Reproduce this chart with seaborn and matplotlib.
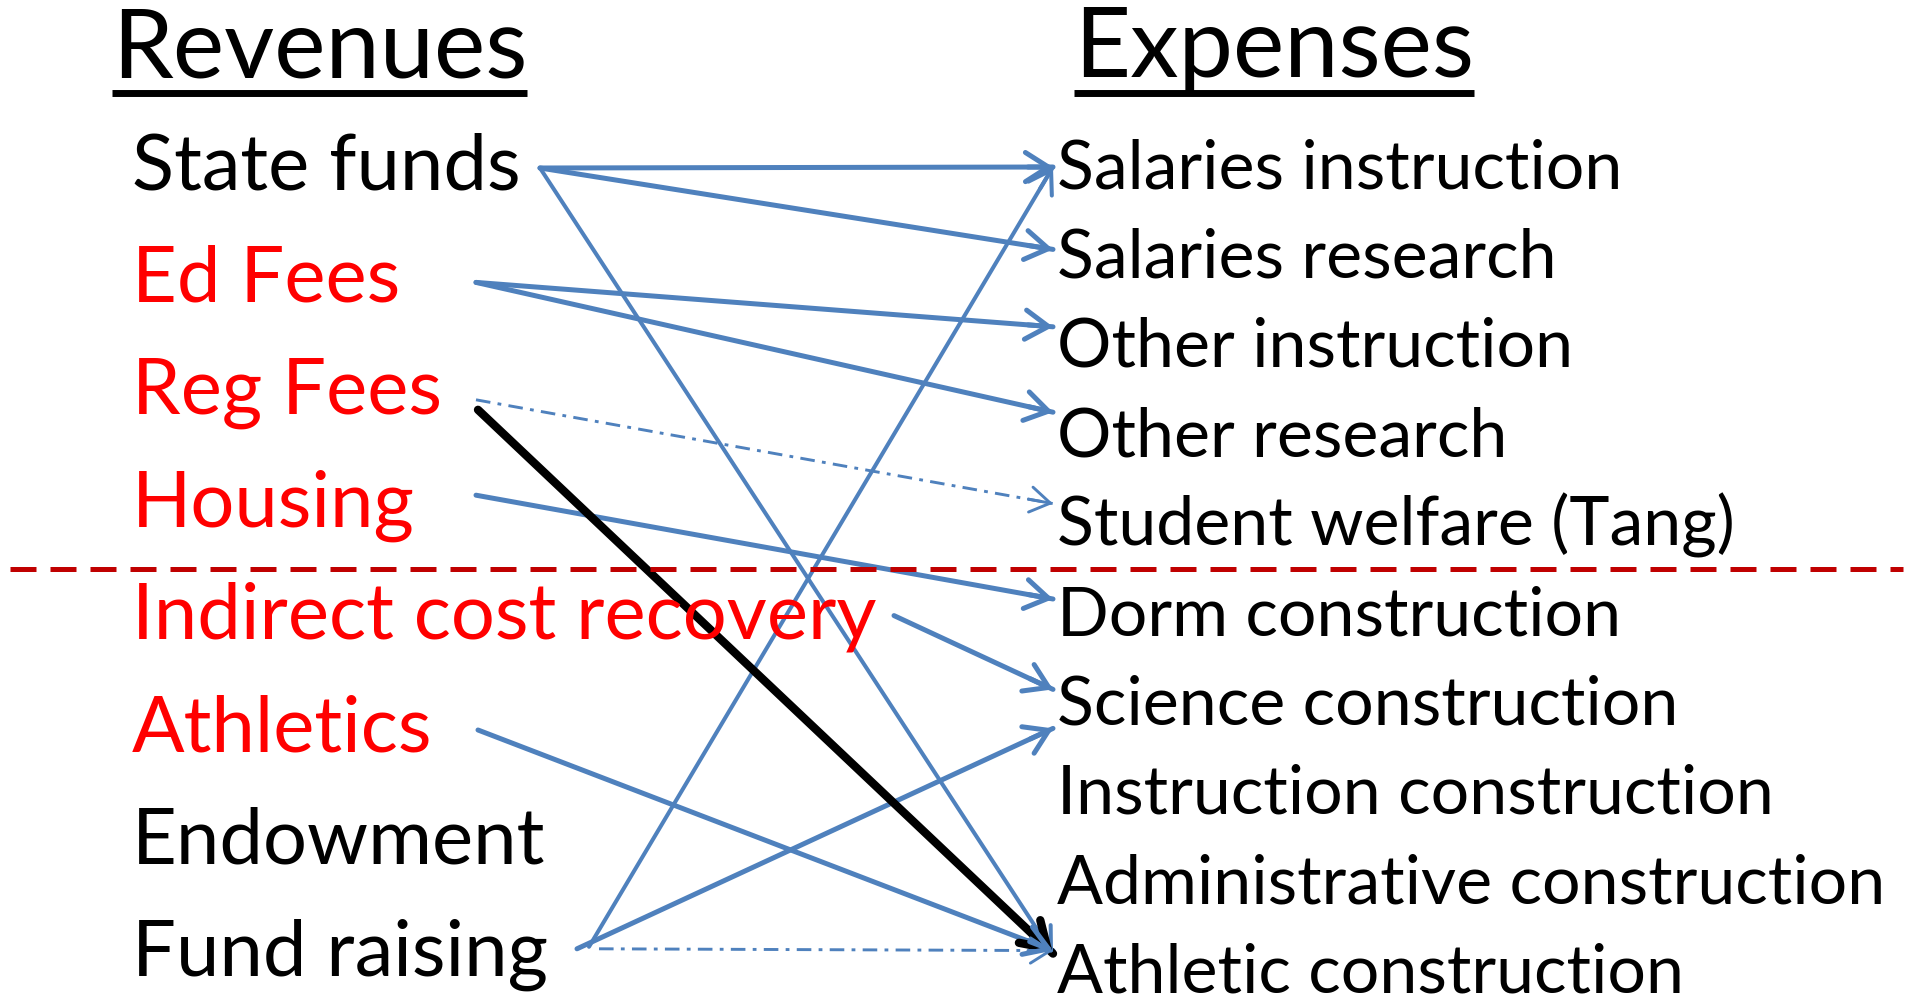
import numpy as np
import pandas as pd
import matplotlib
matplotlib.use("Agg")
import matplotlib.pyplot as plt
import seaborn as sns

# Categories
revenues = ["State funds", "Ed Fees", "Reg Fees", "Housing",
            "Indirect cost recovery", "Athletics", "Endowment", "Fund raising"]
rev_red = [False, True, True, True, True, True, False, False]
expenses = ["Salaries instruction", "Salaries research", "Other instruction",
            "Other research", "Student welfare (Tang)", "Dorm construction",
            "Science construction", "Instruction construction",
            "Administrative construction", "Athletic construction"]

# Flows revenue -> expense
link_src = ["State funds", "State funds", "State funds", "Ed Fees", "Ed Fees",
            "Reg Fees", "Reg Fees", "Housing", "Indirect cost recovery",
            "Athletics", "Fund raising", "Fund raising", "Fund raising"]
link_dst = ["Salaries instruction", "Salaries research", "Athletic construction",
            "Other instruction", "Other research", "Student welfare (Tang)",
            "Athletic construction", "Dorm construction", "Science construction",
            "Athletic construction", "Salaries instruction", "Science construction",
            "Athletic construction"]
link_kind = ["solid", "solid", "thin", "solid", "solid", "dashdot", "bold",
             "solid", "solid", "solid", "thin", "solid", "dashdot"]

# ---- layout (pixels, figure is 1913x996 at dpi 100) ----
W, H = 1913, 996
LEFT_X, RIGHT_X = 132, 1057
LEFT_TOP, LEFT_STEP = 189, 112.4
RIGHT_TOP, RIGHT_STEP = 188, 89.4
SRC_X = [540, 476, 476, 476, 894, 478, None, 589]
TIP_X = 1053
# per-link nudges (dx start, dy start, dy end) relative to text baselines
LINK_NUDGE = [(0, -21, -21), (0, -21, -28), (0, -21, -39), (0, -19, -40),
              (0, -19, -44), (0, -14, -42), (2, -4, -39), (0, -31, -36),
              (0, -23, -35), (0, -21, -42), (0, -29, -21), (-12, -27, 4),
              (10, -27, -42)]

BLUE = "#4F81BD"
KIND_COLOR = {"solid": BLUE, "thin": BLUE, "dashdot": BLUE, "bold": "black"}
KIND_LW = {"solid": 3.6, "thin": 2.9, "dashdot": 2.1, "bold": 6.0}
KIND_DASH = {"solid": "", "thin": "", "dashdot": (5, 2.5, 1.3, 2.5), "bold": ""}
KIND_HEAD = {"solid": 30, "thin": 28, "dashdot": 26, "bold": 32}

sns.set_theme(style="white")
plt.rcParams['font.family'] = ['Lato', 'DejaVu Sans']

fig = plt.figure(figsize=(W / 100, H / 100), dpi=100)
ax = fig.add_axes([0, 0, 1, 1])


def rev_y(i):
    return LEFT_TOP + i * LEFT_STEP


def exp_y(j):
    return RIGHT_TOP + j * RIGHT_STEP


# build segment table
rows = []
for k, (s, d, kind) in enumerate(zip(link_src, link_dst, link_kind)):
    i, j = revenues.index(s), expenses.index(d)
    dx, dy0, dy1 = LINK_NUDGE[k]
    rows.append(dict(link=k, kind=kind, x=SRC_X[i] + dx, y=rev_y(i) + dy0))
    rows.append(dict(link=k, kind=kind, x=TIP_X, y=exp_y(j) + dy1))
seg = pd.DataFrame(rows)

sns.lineplot(data=seg, x="x", y="y", units="link", estimator=None,
             hue="kind", palette=KIND_COLOR, size="kind", sizes=KIND_LW,
             style="kind", dashes=KIND_DASH, sort=False, legend=False, ax=ax)

# arrow heads
for k, g in seg.groupby("link"):
    (x0, y0), (x1, y1) = g[["x", "y"]].to_numpy()
    kind = g["kind"].iloc[0]
    v = np.array([x1 - x0, y1 - y0])
    v = v / np.hypot(*v)
    ax.annotate("", xy=(x1, y1), xytext=(x1 - 25 * v[0], y1 - 25 * v[1]),
                arrowprops=dict(arrowstyle="->,head_length=0.55,head_width=0.35",
                                color=KIND_COLOR[kind], lw=KIND_LW[kind],
                                shrinkA=0, shrinkB=0,
                                mutation_scale=KIND_HEAD[kind]))

# separator between operating and construction items
ax.axhline(569, xmin=10 / W, xmax=1903 / W, color="#C00000", lw=3.6,
           ls=(0, (5.2, 2.8)))

# labels
for i, name in enumerate(revenues):
    ax.text(LEFT_X, rev_y(i), name, fontsize=56, va="baseline",
            color="#FF0000" if rev_red[i] else "black")
for j, name in enumerate(expenses):
    ax.text(RIGHT_X, exp_y(j), name, fontsize=49, va="baseline", color="black")

titles = [ax.text(112, 77, "Revenues", fontsize=70, va="baseline", color="black"),
          ax.text(1074, 77, "Expenses", fontsize=70, va="baseline", color="black")]

ax.set_xlim(0, W)
ax.set_ylim(H, 0)
ax.set_axis_off()

# underline titles
fig.canvas.draw()
inv = ax.transData.inverted()
for t in titles:
    bb = t.get_window_extent()
    (xa, _), (xb, _) = inv.transform([[bb.x0, bb.y0], [bb.x1, bb.y0]])
    ax.plot([xa, xb], [93, 93], color="black", lw=5, solid_capstyle="butt")

fig.savefig("out.png", dpi=100)
